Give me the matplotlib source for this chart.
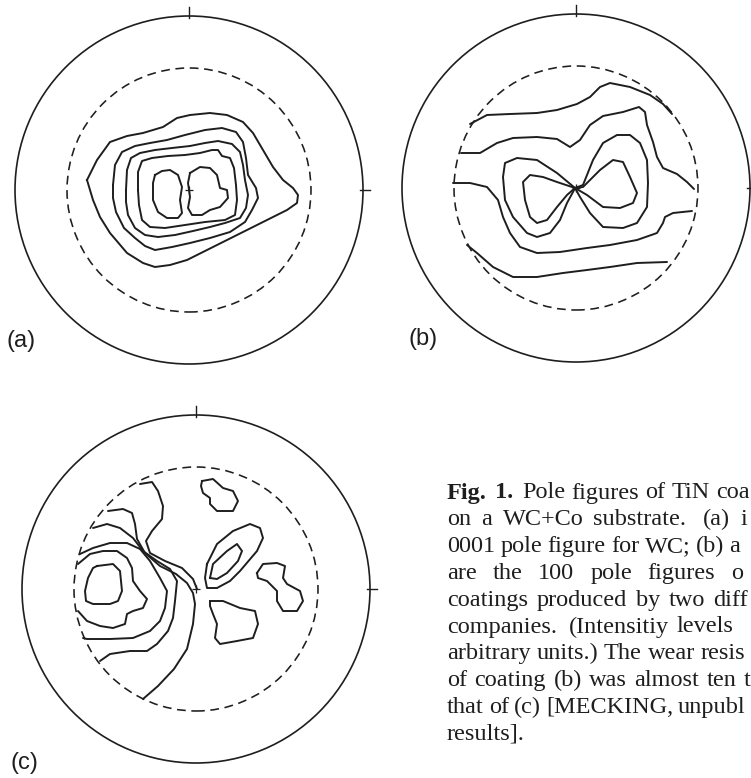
import matplotlib
matplotlib.use("Agg")
import matplotlib.pyplot as plt
from matplotlib.patches import Circle
import numpy as np

W, H = 751, 778
DPI = 100
INK = "#1e1e1e"

# projection circle and the dashed ring, same units as the traces below
R_OUTER = 174
R_DASH = 122

# contour traces, (x, y) offsets from the pole-figure centre, y up

# (a) 0001 pole figure of the WC substrate
A_CLOSED = [
    [(-102, 10), (-92, 30), (-79, 48), (-62, 54), (-46, 57), (-26, 63), (-12, 72), (1, 75),
     (21, 77), (38, 75), (54, 68), (64, 57), (74, 40), (84, 23), (94, 10), (104, 2), (109, -5),
     (108, -13), (98, -20), (78, -30), (58, -40), (38, -50), (18, -60), (-2, -70), (-19, -75),
     (-34, -77), (-46, -73), (-62, -63), (-79, -43), (-89, -27), (-96, -10)],
    [(-76, 5), (-74, 25), (-67, 38), (-54, 44), (-39, 47), (-22, 50), (-4, 55), (16, 60),
     (33, 62), (47, 58), (54, 48), (57, 32), (59, 15), (67, 2), (69, -8), (63, -20), (56, -32),
     (41, -42), (21, -48), (1, -53), (-17, -57), (-34, -60), (-44, -56), (-54, -48), (-65, -38),
     (-73, -22), (-76, -8)],
    [(-63, 0), (-62, 20), (-58, 32), (-49, 37), (-34, 40), (-17, 42), (1, 44), (16, 47),
     (29, 49), (43, 46), (51, 38), (54, 25), (56, 10), (59, -5), (57, -18), (51, -28), (36, -33),
     (21, -37), (4, -41), (-14, -45), (-31, -47), (-44, -45), (-54, -38), (-61, -25), (-63, -12)],
    [(-51, 0), (-51, 18), (-47, 29), (-37, 32), (-21, 34), (-4, 35), (11, 37), (23, 40),
     (29, 40), (33, 34), (41, 32), (45, 22), (47, 5), (48, -10), (46, -25), (36, -30), (16, -32),
     (-4, -35), (-24, -38), (-39, -37), (-47, -30), (-50, -15)],
    [(-34, 15), (-27, 19), (-19, 20), (-11, 15), (-7, 3), (-9, -10), (-7, -23), (-11, -28),
     (-22, -28), (-31, -22), (-36, -10), (-36, 7)],
    [(1, 17), (11, 23), (21, 22), (28, 15), (31, 2), (38, 0), (39, -8), (31, -17), (21, -20),
     (13, -25), (3, -25), (-1, -18), (1, -7), (-1, 7)],
]
A_OPEN = []

# (b) 100 pole figure, coating from the first company
B_OPEN = [
    [(-106, 64), (-89, 73), (-66, 74), (-39, 75), (-19, 78), (1, 84), (14, 91), (24, 101),
     (34, 105), (54, 101), (74, 93), (87, 84), (96, 74)],
    [(-115, 35), (-96, 35), (-79, 45), (-63, 50), (-39, 51), (-19, 49), (-6, 41), (4, 48),
     (14, 63), (27, 72), (47, 76), (63, 81), (69, 76), (71, 63), (77, 46), (81, 31), (87, 20),
     (101, 14), (111, 6), (118, -1)],
    [(-123, 5), (-106, 5), (-89, 1), (-78, -12), (-73, -29), (-66, -45), (-56, -59), (-39, -65),
     (-16, -64), (11, -60), (34, -57), (61, -52), (81, -45), (87, -35), (89, -29), (97, -25),
     (116, -23)],
    [(-109, -57), (-99, -65), (-83, -79), (-63, -89), (-39, -89), (-13, -85), (11, -82),
     (34, -79), (61, -75), (91, -74)],
]
B_CLOSED = [
    [(-1, 0), (-19, 15), (-39, 28), (-59, 30), (-71, 25), (-73, 11), (-71, -12), (-63, -29),
     (-49, -45), (-39, -49), (-26, -45), (-16, -32), (-9, -15), (-3, -4), (-1, 0), (7, 3),
     (17, 28), (27, 45), (41, 53), (54, 53), (64, 45), (71, 28), (72, 5), (71, -19), (61, -35),
     (47, -40), (27, -39), (14, -25), (4, -9)],
    [(-1, 0), (-19, 6), (-33, 11), (-46, 13), (-53, 6), (-51, -12), (-46, -29), (-39, -35),
     (-29, -32), (-19, -19), (-9, -7), (-1, 0), (7, 1), (24, 18), (37, 28), (47, 26), (54, 11),
     (61, -5), (57, -15), (44, -20), (27, -19), (11, -7)],
]

# (c) 100 pole figure, coating from the second company
C_OPEN = [
    [(-118, 25), (-106, 35), (-93, 38), (-79, 38), (-69, 31), (-64, 21), (-63, 8), (-56, -2),
     (-49, -10), (-53, -19), (-63, -22), (-69, -25), (-71, -35), (-83, -39), (-96, -37),
     (-109, -32), (-118, -22)],
    [(-116, 35), (-103, 41), (-86, 46), (-69, 46), (-56, 40), (-46, 28), (-36, 11), (-29, -2),
     (-31, -19), (-36, -32), (-46, -42), (-63, -49), (-86, -50), (-109, -50), (-113, -49)],
    [(-103, 61), (-89, 65), (-76, 61), (-63, 51), (-53, 38), (-39, 28), (-26, 20), (-19, 8),
     (-21, -12), (-23, -29), (-28, -42), (-39, -55), (-49, -62), (-66, -62), (-86, -65),
     (-96, -72)],
    [(-88, 78), (-73, 80), (-64, 76), (-61, 65), (-59, 50), (-51, 36), (-36, 23), (-20, 15),
     (-9, 6), (-3, -4), (-1, -15), (-3, -35), (-9, -60), (-22, -80), (-38, -97), (-53, -110)],
    [(-56, 105), (-44, 107), (-38, 98), (-33, 83), (-34, 70), (-44, 58), (-50, 48), (-46, 36),
     (-31, 28), (-14, 21), (-3, 10), (1, 0)],
]
C_CLOSED = [
    [(-99, 23), (-83, 25), (-76, 18), (-74, -2), (-78, -12), (-86, -15), (-103, -15),
     (-110, -12), (-111, -2), (-108, 11), (-103, 21)],
    [(6, 108), (17, 110), (27, 101), (37, 98), (42, 88), (37, 78), (21, 78), (14, 85), (14, 91),
     (7, 96), (5, 103)],
    [(11, 25), (21, 45), (37, 58), (54, 65), (64, 61), (67, 51), (61, 38), (44, 18), (34, 8),
     (21, 1), (11, 1), (9, 11)],
    [(14, 11), (17, 25), (31, 38), (41, 45), (46, 38), (42, 28), (31, 16), (21, 10)],
    [(61, 16), (67, 25), (81, 26), (89, 23), (87, 11), (91, 5), (104, -2), (107, -12),
     (101, -22), (87, -22), (81, -12), (81, -2), (71, 8), (62, 11)],
    [(14, -12), (27, -12), (44, -19), (59, -22), (62, -35), (57, -49), (41, -52), (24, -55),
     (19, -49), (21, -35), (17, -25), (14, -17)],
]

PANEL_LABELS = ["(a)", "(b)", "(c)"]

CAPTION = [
    "Fig. 1. Pole figures of TiN coatings",
    "on a WC+Co substrate. (a) is the",
    "0001 pole figure for WC; (b) and (c)",
    "are the 100 pole figures of the",
    "coatings produced by two different",
    "companies. (Intensitiy levels are in",
    "arbitrary units.) The wear resistance",
    "of coating (b) was almost ten times",
    "that of (c) [MECKING, unpublished",
    "results].",
]

fig = plt.figure(figsize=(W / DPI, H / DPI), dpi=DPI)
fig.patch.set_facecolor("white")


def px_to_fig(x, y):
    return x / W, 1 - y / H


def draw_panel(cx, cy, closed, open_, label, label_xy):
    half = 190
    ax = fig.add_axes([(cx - half) / W, 1 - (cy + half) / H, 2 * half / W, 2 * half / H])
    ax.set_xlim(-half, half)
    ax.set_ylim(-half, half)
    ax.set_axis_off()

    ax.add_patch(Circle((0, 0), R_OUTER, fill=False, ec=INK, lw=1.2))
    ax.add_patch(Circle((0, 0), R_DASH, fill=False, ec=INK, lw=1.15,
                        linestyle=(0, (5.5, 3.5))))
    # reference marks on the rim
    ax.plot([0, 0], [R_OUTER - 2, R_OUTER + 9], color=INK, lw=1.0)
    ax.plot([R_OUTER - 3, R_OUTER + 7], [0, 0], color=INK, lw=1.0)
    # centre mark
    ax.plot([0], [0], marker="+", ms=6, mew=0.9, color=INK)

    for line in closed:
        pts = np.array(line + [line[0]], dtype=float)
        ax.plot(pts[:, 0], pts[:, 1], color=INK, lw=1.4, solid_joinstyle="round")
    for line in open_:
        pts = np.array(line, dtype=float)
        ax.plot(pts[:, 0], pts[:, 1], color=INK, lw=1.4, solid_joinstyle="round",
                solid_capstyle="round")

    fx, fy = px_to_fig(*label_xy)
    fig.text(fx, fy, label, family="Liberation Sans", fontsize=17, color=INK,
             ha="left", va="center")


draw_panel(189, 190, A_CLOSED, A_OPEN, PANEL_LABELS[0], (7, 341))
draw_panel(576, 188, B_CLOSED, B_OPEN, PANEL_LABELS[1], (409, 339))
draw_panel(196, 589, C_CLOSED, C_OPEN, PANEL_LABELS[2], (11, 763))

# justified caption column; the column runs past the right edge of the page,
# so each line is set only as far as whole characters still fit
CAP_FONT = "Liberation Serif"
CAP_SIZE = 17.5
COL_LEFT, COL_RIGHT = 447, 797
PAGE_RIGHT = 751
BASE0, LEAD = 498.5, 26.8
renderer = fig.canvas.get_renderer()


def word_segments(word, bold):
    weight = "bold" if bold else "normal"
    if word.startswith("MECKING"):
        return [("M", 1.0, weight), (word[1:], 0.78, weight)]
    return [(word, 1.0, weight)]


def text_width(s, size, weight):
    t = fig.text(0, 0, s, family=CAP_FONT, fontsize=size, fontweight=weight)
    w = t.get_window_extent(renderer).width
    t.remove()
    return w


space_w = 0.25 * CAP_SIZE * DPI / 72
for i, line in enumerate(CAPTION):
    words = line.split()
    segs = [word_segments(w, i == 0 and j < 2) for j, w in enumerate(words)]
    widths = [sum(text_width(s, CAP_SIZE * k, wt) for s, k, wt in sg) for sg in segs]
    # sentence ends get a wider, more stretchable space
    natural = [space_w * (1.4 if w.endswith(".") else 1.0) for w in words[:-1]]
    weight = [2.0 if w.endswith(".") else 1.0 for w in words[:-1]]
    if i < len(CAPTION) - 1 and natural:
        extra = (COL_RIGHT - COL_LEFT - sum(widths) - sum(natural)) / sum(weight)
        gaps = [n + extra * g for n, g in zip(natural, weight)]
    else:
        gaps = natural
    gaps = gaps + [0]
    x = COL_LEFT
    base = BASE0 + i * LEAD
    done = False
    for sg, w, gap in zip(segs, widths, gaps):
        xx = x
        for s, k, wt in sg:
            size = CAP_SIZE * k
            sw = text_width(s, size, wt)
            if xx + sw > PAGE_RIGHT:
                # keep the longest prefix that still fits on the page
                n = len(s)
                while n > 0 and xx + text_width(s[:n], size, wt) > PAGE_RIGHT:
                    n -= 1
                s = s[:n]
                done = True
            if s:
                fx, fy = px_to_fig(xx, base)
                fig.text(fx, fy, s, family=CAP_FONT, fontsize=size, fontweight=wt,
                         color=INK, ha="left", va="baseline")
            xx += sw
            if done:
                break
        if done:
            break
        x += w + gap

fig.savefig("out.png", dpi=DPI, facecolor="white")
